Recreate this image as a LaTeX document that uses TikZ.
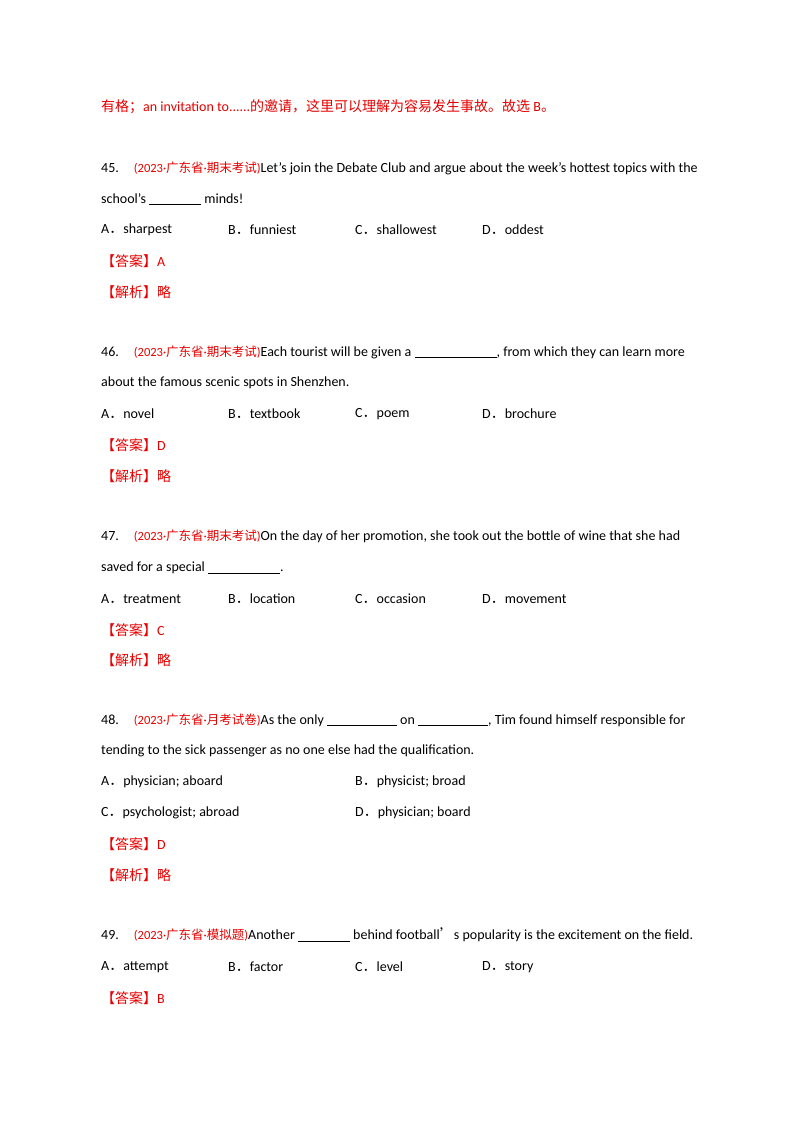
\documentclass[tikz,border=0pt]{standalone}
\usepackage{fontspec}
\setmainfont{Carlito}
\newfontfamily\cjk{Noto Sans CJK SC}
\definecolor{srcred}{RGB}{230,0,0}
\newcommand{\blk}[1]{\rule[-1.5pt]{#1pt}{0.5pt}}
\newcommand{\src}[1]{\textcolor{srcred}{\fontsize{12.5}{14}\selectfont #1}}
\newcommand{\dt}{{\rmfamily ·}}
\newcommand{\fd}{{\cjk ．}}
\begin{document}
\begin{tikzpicture}[x=1pt,y=-1pt,
  txt/.style={anchor=west,inner sep=0pt,font=\fontsize{14}{16}\selectfont},
  red/.style={txt,text=srcred}]
\useasboundingbox (0,0) rectangle (800,1132);
\fill[white] (0,0) rectangle (800,1132);
\node[red] (l0) at (101,107) {{\cjk 有格；}an invitation to......{\cjk 的邀请，这里可以理解为容易发生事故。故选} B{\cjk 。}};
% 45
\node[txt] (q45a) at (101,168) {45.\hspace{15pt}\src{(2023\dt{\cjk 广东省}\dt{\cjk 期末考试})}Let's join the Debate Club and argue about the week's hottest topics with the};
\node[txt] (q45b) at (101,199) {school's \blk{52} minds!};
\node[txt] (q45A) at (101,230) {A\fd sharpest};
\node[txt] (q45B) at (228,230) {B\fd funniest};
\node[txt] (q45C) at (355,230) {C\fd shallowest};
\node[txt] (q45D) at (482,230) {D\fd oddest};
\node[red] (a45) at (101,261) {{\cjk 【答案】}A};
\node[red] (e45) at (101,292) {{\cjk 【解析】略}};
% 46
\node[txt] (q46a) at (101,352) {46.\hspace{15pt}\src{(2023\dt{\cjk 广东省}\dt{\cjk 期末考试})}Each tourist will be given a \blk{82}, from which they can learn more};
\node[txt] (q46b) at (101,383) {about the famous scenic spots in Shenzhen.};
\node[txt] (q46A) at (101,414) {A\fd novel};
\node[txt] (q46B) at (228,414) {B\fd textbook};
\node[txt] (q46C) at (355,414) {C\fd poem};
\node[txt] (q46D) at (482,414) {D\fd brochure};
\node[red] (a46) at (101,445) {{\cjk 【答案】}D};
\node[red] (e46) at (101,476) {{\cjk 【解析】略}};
% 47
\node[txt] (q47a) at (101,536) {47.\hspace{15pt}\src{(2023\dt{\cjk 广东省}\dt{\cjk 期末考试})}On the day of her promotion, she took out the bottle of wine that she had};
\node[txt] (q47b) at (101,568) {saved for a special \blk{72}.};
\node[txt] (q47A) at (101,599) {A\fd treatment};
\node[txt] (q47B) at (228,599) {B\fd location};
\node[txt] (q47C) at (355,599) {C\fd occasion};
\node[txt] (q47D) at (482,599) {D\fd movement};
\node[red] (a47) at (101,630) {{\cjk 【答案】}C};
\node[red] (e47) at (101,660) {{\cjk 【解析】略}};
% 48
\node[txt] (q48a) at (101,720) {48.\hspace{15pt}\src{(2023\dt{\cjk 广东省}\dt{\cjk 月考试卷})}As the only \blk{70} on \blk{70}, Tim found himself responsible for};
\node[txt] (q48b) at (101,751) {tending to the sick passenger as no one else had the qualification.};
\node[txt] (q48A) at (101,782) {A\fd physician; aboard};
\node[txt] (q48B) at (355,782) {B\fd physicist; broad};
\node[txt] (q48C) at (101,813) {C\fd psychologist; abroad};
\node[txt] (q48D) at (355,813) {D\fd physician; board};
\node[red] (a48) at (101,844) {{\cjk 【答案】}D};
\node[red] (e48) at (101,875) {{\cjk 【解析】略}};
% 49
\node[txt] (q49a) at (101,935) {49.\hspace{15pt}\src{(2023\dt{\cjk 广东省}\dt{\cjk 模拟题})}Another \blk{52} behind football{\cjk ’}s popularity is the excitement on the field.};
\node[txt] (q49A) at (101,967) {A\fd attempt};
\node[txt] (q49B) at (228,967) {B\fd factor};
\node[txt] (q49C) at (355,967) {C\fd level};
\node[txt] (q49D) at (482,967) {D\fd story};
\node[red] (a49) at (101,998) {{\cjk 【答案】}B};
\end{tikzpicture}
\end{document}
